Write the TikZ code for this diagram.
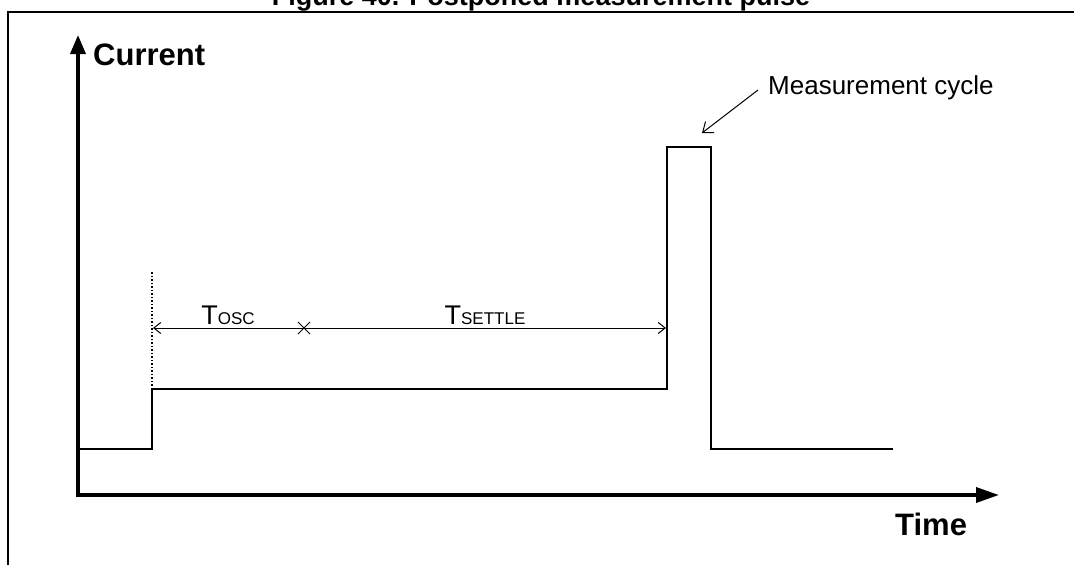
\documentclass[tikz,border=0pt]{standalone}
\usepackage{fontspec}
\setmainfont{Liberation Sans}
\usetikzlibrary{arrows.meta,shapes.misc}
\begin{document}
\begin{tikzpicture}[x=1pt,y=-1pt,
  frameline/.style={line width=2pt},
  axisline/.style={line width=3.5pt},
  wave/.style={line width=2pt, line join=miter},
  dimline/.style={line width=1pt},
  lbl/.style={inner sep=0pt, anchor=base west},
  dimlbl/.style={inner sep=0pt, anchor=base},
  barb/.tip={Straight Barb[length=7pt,width=11pt,line width=1pt]},
  bigbarb/.tip={Straight Barb[length=9pt,width=14pt,line width=1pt]}]
\useasboundingbox (0,0) rectangle (1074,565);
\clip (0,0) rectangle (1074,565);
% title (cut at top)
\node[dimlbl] (title) at (541,5) {\fontsize{27}{32}\selectfont\bfseries Figure 40. Postponed measurement pulse};
% frame
\coordinate (fr1) at (1076,12);
\coordinate (fr2) at (8,12);
\coordinate (fr3) at (8,567);
\draw[frameline] (fr1) -- (fr2) -- (fr3);
% axes
\coordinate (O) at (78,495);
\coordinate (ytip) at (78,35);
\coordinate (xtip) at (999,495);
\draw[axisline, {Triangle[length=19pt,width=15pt]}-{Triangle[length=23pt,width=15pt]}] (ytip) -- (O) -- (xtip);
\node[lbl] (cur) at (93,65) {\fontsize{31}{36}\selectfont\bfseries Current};
\node[lbl] (time) at (895,535) {\fontsize{31}{36}\selectfont\bfseries Time};
% waveform
\coordinate (w0) at (78,449);
\coordinate (w1) at (152,449);
\coordinate (w2) at (152,389);
\coordinate (w3) at (667,389);
\coordinate (w4) at (667,147);
\coordinate (w5) at (711,147);
\coordinate (w6) at (711,449);
\coordinate (w7) at (893,449);
\draw[wave] (w0) -- (w1) -- (w2) -- (w3) -- (w4) -- (w5) -- (w6) -- (w7);
% dotted marker
\coordinate (dtop) at (152,270);
\draw[line width=1.5pt, dotted] (w2) -- (dtop);
% dimension lines
\coordinate (d0) at (153,328);
\coordinate (d1) at (666,328);
\node[cross out, draw, line width=1pt, minimum size=11pt, inner sep=0pt] (xm) at (304,328) {};
\draw[dimline, barb-] (d0) -- (xm.center);
\draw[dimline, -barb] (xm.center) -- (d1);
\node[dimlbl] (tosc) at (228,324) {\fontsize{27}{32}\selectfont T{\fontsize{17}{20}\selectfont OSC}};
\node[dimlbl] (tset) at (485,324) {\fontsize{27}{32}\selectfont T{\fontsize{17}{20}\selectfont SETTLE}};
% measurement cycle
\node[lbl] (meas) at (768,94) {\fontsize{26}{30}\selectfont Measurement cycle};
\coordinate (ms) at (758,90);
\coordinate (me) at (702,133);
\draw[dimline, -bigbarb] (ms) -- (me);
\end{tikzpicture}
\end{document}
